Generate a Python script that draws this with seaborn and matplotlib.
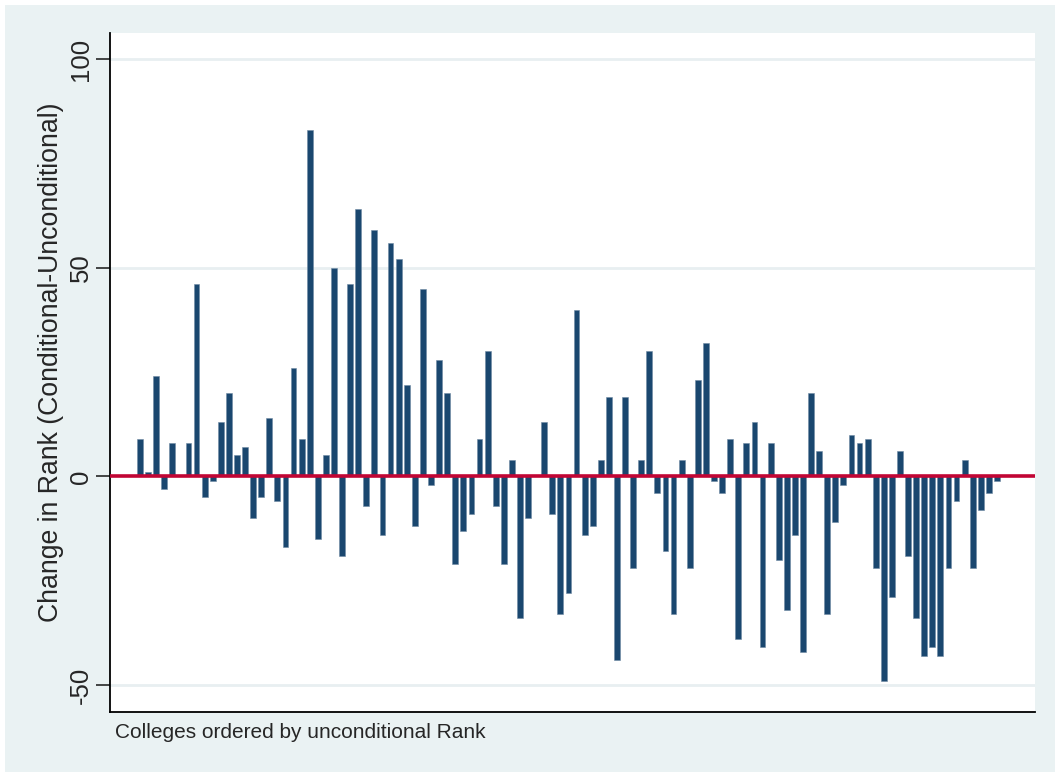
import numpy as np
import pandas as pd
import matplotlib
matplotlib.use('Agg')
import matplotlib.pyplot as plt
import matplotlib.patches as mpatches
import seaborn as sns

# change in rank, colleges ordered by unconditional rank
change = [9, 1, 24, -3, 8, 0, 8, 46, -5, -1,
          13, 20, 5, 7, -10, -5, 14, -6, -17, 26,
          9, 83, -15, 5, 50, -19, 46, 64, -7, 59,
          -14, 56, 52, 22, -12, 45, -2, 28, 20, -21,
          -13, -9, 9, 30, -7, -21, 4, -34, -10, 0,
          13, -9, -33, -28, 40, -14, -12, 4, 19, -44,
          19, -22, 4, 30, -4, -18, -33, 4, -22, 23,
          32, -1, -4, 9, -39, 8, 13, -41, 8, -20,
          -32, -14, -42, 20, 6, -33, -11, -2, 10, 8,
          9, -22, -49, -29, 6, -19, -34, -43, -41, -43,
          -22, -6, 4, -22, -8, -4, -1]
rank = np.arange(1, len(change) + 1)
df = pd.DataFrame({'rank': rank, 'change': change})

bar_color = '#1a476f'
bg_color = '#eaf2f3'

sns.set_style('white')
plt.rcParams['font.family'] = ['Liberation Sans', 'DejaVu Sans']
plt.rcParams['axes.unicode_minus'] = False

fig = plt.figure(figsize=(10.55, 7.72), dpi=100)
fig.patch.set_facecolor('white')
fig.patches.append(mpatches.Rectangle((5 / 1055, 0), 1, 1 - 5 / 772,
                                      transform=fig.transFigure,
                                      facecolor=bg_color, edgecolor='none', zorder=-10))
ax = fig.add_axes([110 / 1055, 1 - 712 / 772, 925 / 1055, 679 / 772])
ax.set_facecolor('white')

for y in [-50, 50, 100]:
    ax.axhline(y, color='#e8eff1', lw=2, zorder=0)

sns.barplot(data=df, x='rank', y='change', native_scale=True, width=0.72,
            color=bar_color, saturation=1, edgecolor='#6f8aa3', linewidth=0.4,
            ax=ax, zorder=2)
ax.axhline(0, color='#c10534', lw=2.6, zorder=3)

ax.set_xlim(-2.7, 111.7)
ax.set_ylim(-56.5, 106.3)
ax.set_xticks([])
ax.set_yticks([-50, 0, 50, 100])
ax.tick_params(axis='y', length=10, width=1.2, pad=2, labelsize=18.5, left=True)
plt.setp(ax.get_yticklabels(), rotation=90, va='center')
ax.set_xlabel('')
ax.set_ylabel('Change in Rank (Conditional-Unconditional)', fontsize=19.2)
ax.yaxis.set_label_coords(-0.05, 0.515)

for s in ['top', 'right']:
    ax.spines[s].set_visible(False)
for s in ['left', 'bottom']:
    ax.spines[s].set_color('black')
    ax.spines[s].set_linewidth(1.3)

fig.text(115 / 1055, 1 - 732 / 772, 'Colleges ordered by unconditional Rank',
         fontsize=15, ha='left', va='center')

fig.savefig('out.png', dpi=100, facecolor=fig.get_facecolor())
